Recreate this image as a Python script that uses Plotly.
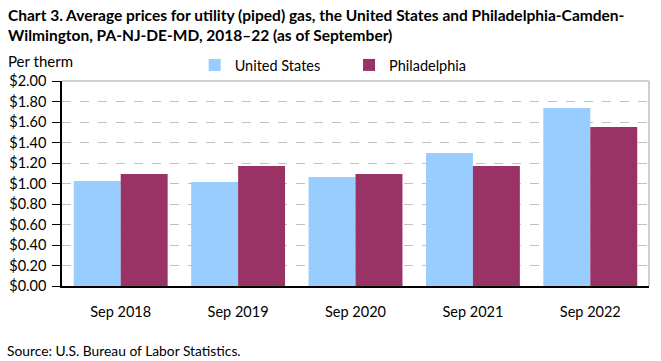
import plotly.graph_objects as go

categories = ["Sep 2018", "Sep 2019", "Sep 2020", "Sep 2021", "Sep 2022"]
us_values = [1.024, 1.015, 1.063, 1.298, 1.737]
phila_values = [1.093, 1.171, 1.093, 1.171, 1.551]
y_tickvals = [0, 0.2, 0.4, 0.6, 0.8, 1.0, 1.2, 1.4, 1.6, 1.8, 2.0]
y_ticktext = ["$%.2f" % v for v in y_tickvals]

font_family = "Lato, 'Open Sans', 'Liberation Sans', sans-serif"

fig = go.Figure()
fig.add_trace(go.Bar(x=categories, y=us_values, name="United States", legend="legend",
                     marker=dict(color="#99CCFF", line=dict(width=0))))
fig.add_trace(go.Bar(x=categories, y=phila_values, name="Philadelphia", legend="legend2",
                     marker=dict(color="#993366", line=dict(width=0))))

legend_common = dict(orientation="h", y=1.0, xanchor="left", yanchor="bottom",
                     font=dict(size=14.5, color="black"), bgcolor="rgba(0,0,0,0)")

fig.update_layout(
    width=661, height=361,
    margin=dict(l=62, r=12, t=81, b=75, autoexpand=False),
    paper_bgcolor="white", plot_bgcolor="white",
    font=dict(family=font_family, size=14, color="black"),
    barmode="group", bargap=0.2, bargroupgap=0,
    showlegend=True,
    legend=dict(x=0.226, **legend_common),
    legend2=dict(x=0.489, **legend_common),
    xaxis=dict(showline=True, linecolor="black", linewidth=1.5, ticks="",
               tickfont=dict(size=14.5), showgrid=False, ticklabelstandoff=12),
    yaxis=dict(range=[0, 2.0], tickvals=y_tickvals, ticktext=y_ticktext,
               showline=True, linecolor="black", linewidth=1.5,
               ticks="outside", ticklen=8, tickcolor="black",
               showgrid=True, gridcolor="#C0C0C0", griddash="dash", gridwidth=1,
               tickfont=dict(size=14.5), zeroline=False, ticklabelstandoff=3),
    shapes=[
        dict(type="line", xref="paper", yref="paper", x0=0, x1=1, y0=1, y1=1,
             line=dict(color="#BFBFBF", width=1.5)),
        dict(type="line", xref="paper", yref="paper", x0=1, x1=1, y0=0, y1=1,
             line=dict(color="#BFBFBF", width=1.5)),
    ],
    annotations=[
        dict(text="<b>Chart 3. Average prices for utility (piped) gas, the United States and Philadelphia-Camden-<br>Wilmington, PA-NJ-DE-MD, 2018\u201322 (as of September)</b>",
             xref="paper", yref="paper", x=-0.0954, y=1.376, xanchor="left", yanchor="top",
             align="left", showarrow=False, font=dict(size=15.5, color="black")),
        dict(text="Per therm", xref="paper", yref="paper", x=-0.095, y=1.045,
             xanchor="left", yanchor="bottom", showarrow=False,
             font=dict(size=15, color="black")),
        dict(text="Source: U.S. Bureau of Labor Statistics.", xref="paper", yref="paper",
             x=-0.097, y=-0.265, xanchor="left", yanchor="top", showarrow=False,
             font=dict(size=13.8, color="black")),
    ],
)

fig.write_html("out.html", config={"displayModeBar": False},
               post_script="document.body.style.margin='0';document.body.style.overflow='hidden';")
